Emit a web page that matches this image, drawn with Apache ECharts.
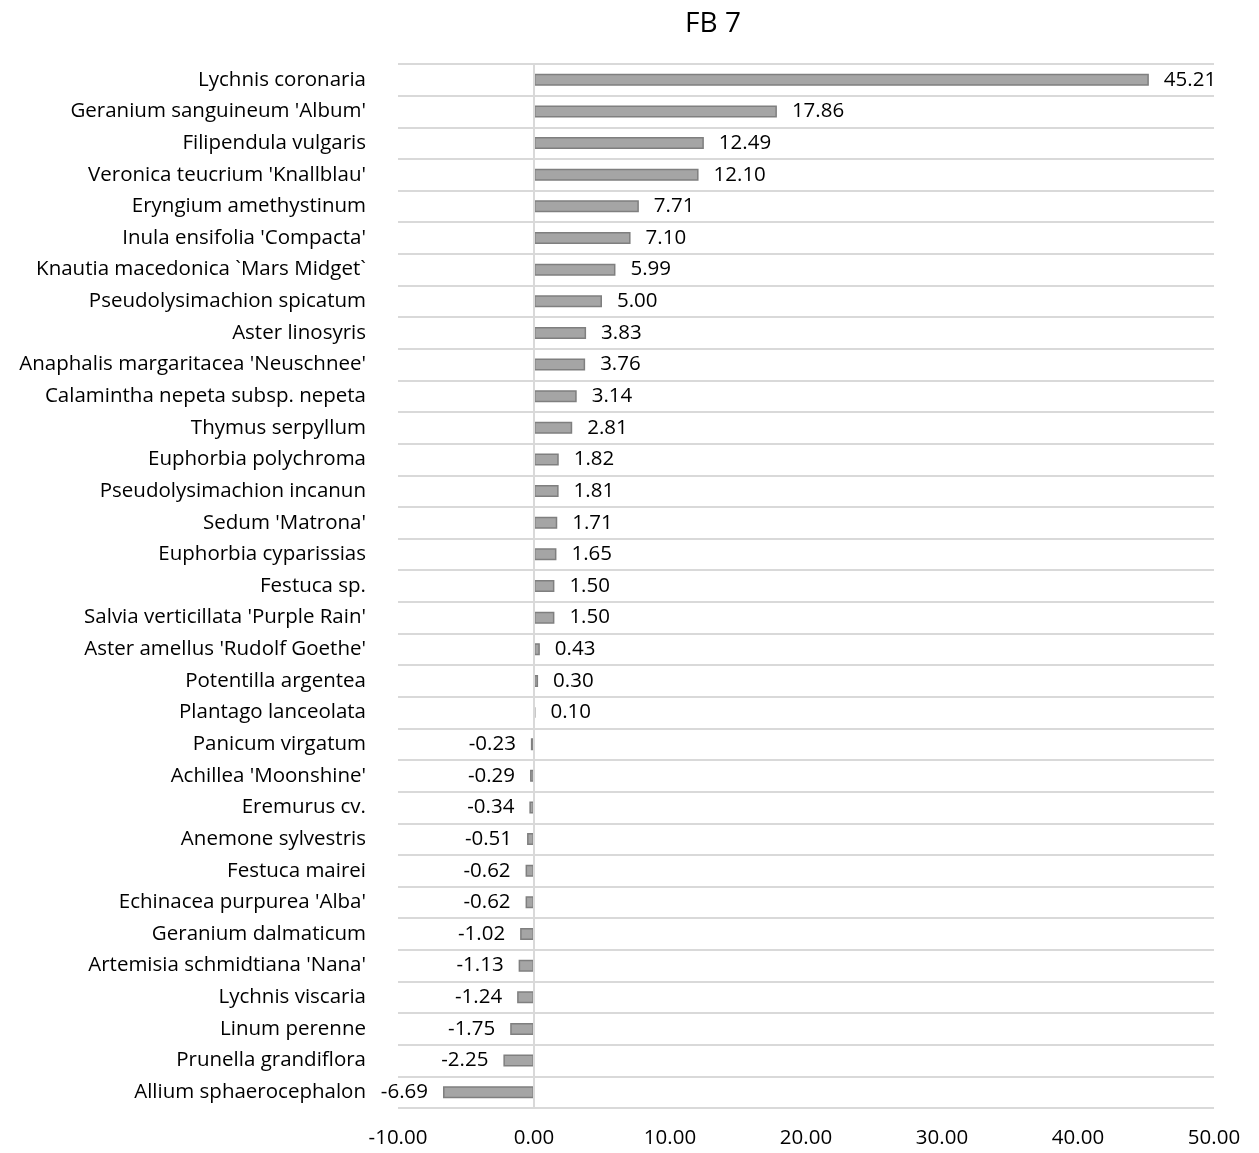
<!DOCTYPE html>
<html><head><meta charset="utf-8">
<script src="https://cdn.jsdelivr.net/npm/echarts@6/dist/echarts.min.js"></script>
<style>html,body{margin:0;padding:0;background:#fff}#c{width:1259px;height:1153px}</style>
</head><body><div id="c"></div>
<script>
const categories = ["Lychnis coronaria","Geranium sanguineum 'Album'","Filipendula vulgaris","Veronica teucrium 'Knallblau'","Eryngium amethystinum","Inula ensifolia 'Compacta'","Knautia macedonica `Mars Midget`","Pseudolysimachion spicatum","Aster linosyris","Anaphalis margaritacea 'Neuschnee'","Calamintha nepeta subsp. nepeta","Thymus serpyllum","Euphorbia polychroma","Pseudolysimachion incanun","Sedum 'Matrona'","Euphorbia cyparissias","Festuca sp.","Salvia verticillata 'Purple Rain'","Aster amellus 'Rudolf Goethe'","Potentilla argentea","Plantago lanceolata","Panicum virgatum","Achillea 'Moonshine'","Eremurus cv.","Anemone sylvestris","Festuca mairei","Echinacea purpurea 'Alba'","Geranium dalmaticum","Artemisia schmidtiana 'Nana'","Lychnis viscaria","Linum perenne","Prunella grandiflora","Allium sphaerocephalon"];
const values = [45.21,17.86,12.49,12.10,7.71,7.10,5.99,5.00,3.83,3.76,3.14,2.81,1.82,1.81,1.71,1.65,1.50,1.50,0.43,0.30,0.10,-0.23,-0.29,-0.34,-0.51,-0.62,-0.62,-1.02,-1.13,-1.24,-1.75,-2.25,-6.69];
const title = "FB 7";
const xMin = -10, xMax = 50, xStep = 10;

const font = "'Open Sans', sans-serif";
const chart = echarts.init(document.getElementById('c'), null, {renderer:'canvas'});
chart.setOption({
  animation:false,
  title:{text:title,left:708,top:5,textAlign:'center',textStyle:{fontFamily:font,fontSize:28,fontWeight:'normal',color:'#000'}},
  grid:{left:398,right:45,top:64,bottom:45,containLabel:false},
  xAxis:{type:'value',min:xMin,max:xMax,interval:xStep,
    axisLine:{show:false},axisTick:{show:false},splitLine:{show:false},
    axisLabel:{margin:20,fontFamily:font,fontSize:20.5,color:'#000',formatter:v=>v.toFixed(2)}},
  yAxis:{type:'category',data:categories,inverse:true,
    axisLine:{show:false},axisTick:{show:false},
    splitLine:{show:true,lineStyle:{color:'#d9d9d9',width:2}},
    axisLabel:{margin:32,fontFamily:font,fontSize:20.5,color:'#000',interval:0,padding:[3,0,0,0]}},
  series:[{type:'bar',data:values.map(v=>({value:v,label:{position:v<0?'left':'right'}})),barWidth:12,
    itemStyle:{color:'#a5a5a5',borderColor:'#7f7f7f',borderWidth:1.5},
    label:{show:true,distance:15,fontFamily:font,fontSize:20.5,color:'#000',padding:[5,0,0,0],formatter:p=>p.value.toFixed(2)},
    markLine:{silent:true,symbol:'none',label:{show:false},lineStyle:{color:'#d9d9d9',width:2,type:'solid'},data:[{xAxis:0}]}
  }]
});
</script></body></html>
